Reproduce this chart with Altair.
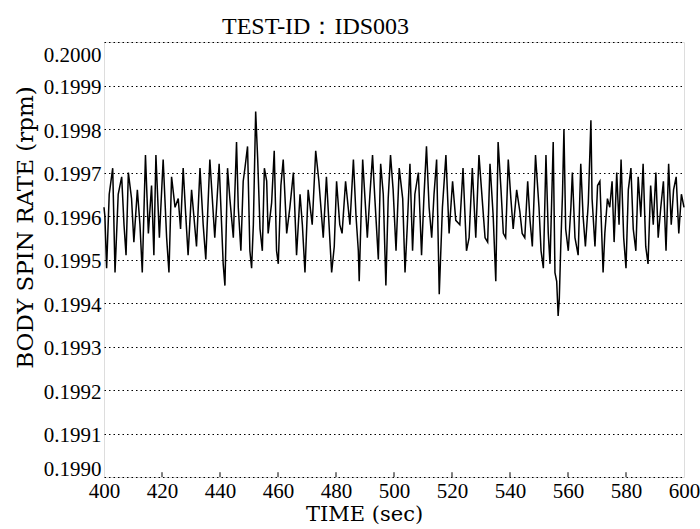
import altair as alt
import pandas as pd

TITLE = "TEST-ID：IDS003"
X_TITLE = "TIME (sec)"
Y_TITLE = "BODY SPIN RATE (rpm)"

x_ticks = [400, 420, 440, 460, 480, 500, 520, 540, 560, 580, 600]
y_ticks = [0.1990, 0.1991, 0.1992, 0.1993, 0.1994, 0.1995,
           0.1996, 0.1997, 0.1998, 0.1999, 0.2000]

# (time [s], body spin rate [rpm])
seg1 = [(400.0, .19962), (400.3, .19960), (400.9, .19948), (401.8, .19965), (403.0, .19971),
        (403.8, .19947), (404.9, .19965), (406.1, .19969), (406.9, .19958), (407.6, .19951),
        (408.4, .19970), (409.5, .19964), (410.3, .19954), (411.5, .19966), (412.4, .19958),
        (413.2, .19947), (414.3, .19974), (415.3, .19956), (416.4, .19967), (417.2, .19951),
        (417.9, .19974), (419.1, .19955), (420.4, .19973), (421.6, .19955), (422.4, .19947),
        (423.3, .19969), (424.5, .19962), (425.6, .19964), (426.4, .19957), (427.3, .19971),
        (428.2, .19960), (429.0, .19951), (430.2, .19966), (431.9, .19953), (433.1, .19971),
        (434.2, .19958), (435.1, .19950), (436.5, .19973), (438.2, .19955), (439.7, .19972),
        (441.1, .19949), (441.7, .19944)]
seg2 = [(442.6, .19971), (443.4, .19964), (444.6, .19955), (445.7, .19977), (446.3, .19962),
        (447.2, .19952), (448.0, .19968), (448.6, .19971), (449.5, .19976), (450.3, .19952),
        (450.9, .19948), (451.5, .19958), (452.3, .19984), (453.0, .19973), (453.8, .19957),
        (454.6, .19952), (455.3, .19971), (456.1, .19968), (456.6, .19956), (457.8, .19963),
        (458.7, .19975), (459.5, .19952), (460.1, .19949), (461.0, .19967), (461.8, .19973),
        (463.0, .19956), (464.1, .19962), (465.3, .19970), (466.4, .19951), (467.6, .19965),
        (468.4, .19958), (469.3, .19947), (470.4, .19966), (471.8, .19958), (473.0, .19975),
        (474.1, .19968), (475.6, .19955), (476.7, .19969), (478.5, .19947), (479.4, .19953),
        (480.2, .19968), (481.3, .19958), (482.1, .19956), (483.3, .19968), (484.8, .19958)]
seg3 = [(486.0, .19973), (486.9, .19960), (487.7, .19952), (488.0, .19945), (489.2, .19973),
        (490.0, .19964), (490.8, .19955), (491.7, .19965), (492.6, .19974), (493.4, .19964),
        (494.6, .19950), (495.4, .19972), (496.3, .19965), (497.2, .19944), (498.0, .19964),
        (498.8, .19974), (499.7, .19966), (500.7, .19952), (501.8, .19971), (503.0, .19964),
        (503.8, .19947), (504.6, .19958), (505.5, .19972), (506.4, .19952), (507.2, .19965),
        (508.4, .19970), (509.5, .19951), (510.3, .19964), (511.2, .19976), (512.1, .19962),
        (513.0, .19955), (513.8, .19965), (514.7, .19973), (515.6, .19942), (516.7, .19962),
        (517.9, .19974), (519.0, .19956), (520.2, .19968), (521.3, .19959), (522.7, .19958),
        (523.8, .19971), (525.0, .19952), (525.9, .19955), (527.0, .19971), (528.2, .19955)]
seg4 = [(529.3, .19974), (530.4, .19964), (531.4, .19955), (532.3, .19954), (533.1, .19972),
        (534.2, .19960), (534.8, .19950), (535.1, .19945), (535.9, .19977), (536.9, .19966),
        (537.7, .19956), (538.5, .19955), (539.4, .19973), (540.3, .19964), (541.1, .19957),
        (542.3, .19966), (543.4, .19961), (544.2, .19956), (545.1, .19955), (546.1, .19968),
        (546.9, .19959), (547.7, .19953), (548.8, .19974), (550.0, .19962), (550.7, .19952),
        (551.5, .19948), (552.4, .19974), (553.2, .19956), (553.8, .19949), (554.9, .19977),
        (555.5, .19947), (556.1, .19945), (556.6, .19937), (557.0, .19941), (557.5, .19953),
        (558.1, .19965), (558.6, .19980), (559.2, .19957), (560.1, .19952), (561.0, .19962),
        (561.5, .19970), (562.4, .19955), (563.5, .19951), (564.4, .19972), (565.2, .19960),
        (566.0, .19953), (567.0, .19963), (567.9, .19982), (568.3, .19964), (569.3, .19953),
        (570.2, .19967), (571.0, .19968), (572.1, .19947), (572.7, .19956), (573.6, .19964),
        (574.4, .19962), (575.2, .19968), (575.9, .19954)]
seg5 = [(576.8, .19970), (577.6, .19958), (578.3, .19973), (579.2, .19955), (580.0, .19948),
        (580.8, .19966), (581.7, .19971), (582.5, .19957), (583.4, .19952), (584.2, .19969),
        (585.1, .19960), (585.9, .19972), (586.8, .19953), (587.6, .19949), (588.5, .19967),
        (589.4, .19958), (590.3, .19970), (591.1, .19955), (592.0, .19962), (592.9, .19968),
        (593.8, .19952), (594.7, .19972), (595.6, .19958), (596.4, .19966), (597.3, .19969),
        (598.2, .19956), (599.1, .19965), (600.0, .19962)]

rows = seg1 + seg2 + seg3 + seg4 + seg5
df = pd.DataFrame(rows, columns=["t", "v"])
ticks_df = pd.DataFrame({"t": x_ticks[1:-1]})

FONT = "Liberation Serif"
TFONT = "DejaVu Serif"

x_scale = alt.Scale(domain=[400, 600], nice=False, zero=False)
y_scale = alt.Scale(domain=[0.1990, 0.2000], nice=False, zero=False)

line = alt.Chart(df).mark_line(color="black", strokeWidth=1.5).encode(
    x=alt.X("t:Q", scale=x_scale, axis=alt.Axis(
        values=x_ticks, format="d", grid=False, ticks=False, domain=False,
        labelFlush=False,
        labelFont=FONT, labelFontSize=21, labelColor="black", labelPadding=3,
        title=X_TITLE, titleFont=TFONT, titleFontSize=21, titleFontWeight="normal",
        titleColor="black", titleX=260, titleY=37, titleBaseline="middle")),
    y=alt.Y("v:Q", scale=y_scale, axis=alt.Axis(
        values=y_ticks, format=".4f", grid=True, gridDash=[1.5, 3], gridColor="black",
        gridWidth=1, ticks=False, domain=False, labelFlush=True, labelOffset=2,
        labelFont=FONT, labelFontSize=21, labelColor="black", labelPadding=3,
        title=Y_TITLE, titleFont=TFONT, titleFontSize=23, titleFontWeight="normal",
        titleColor="black", titleX=-79, titleY=185, titleBaseline="middle")),
)

inner_ticks = alt.Chart(ticks_df).mark_rule(color="black", strokeWidth=1).encode(
    x=alt.X("t:Q", scale=x_scale),
    y=alt.datum(0.1990),
    y2=alt.datum(0.199011),
)

chart = alt.layer(line, inner_ticks).properties(
    width=580,
    height=435,
    title=alt.TitleParams(TITLE, anchor="start", dx=118, dy=22, offset=13, baseline="middle",
                          frame="group", font=FONT, fontSize=24, fontWeight="normal",
                          color="black"),
    autosize=alt.AutoSizeParams(type="none"),
    padding={"left": 104, "top": 42, "right": 16, "bottom": 52},
).configure_view(stroke="black", strokeWidth=1.5).configure(background="white")

chart.save("out.html", embed_options={"renderer": "svg", "actions": False})
